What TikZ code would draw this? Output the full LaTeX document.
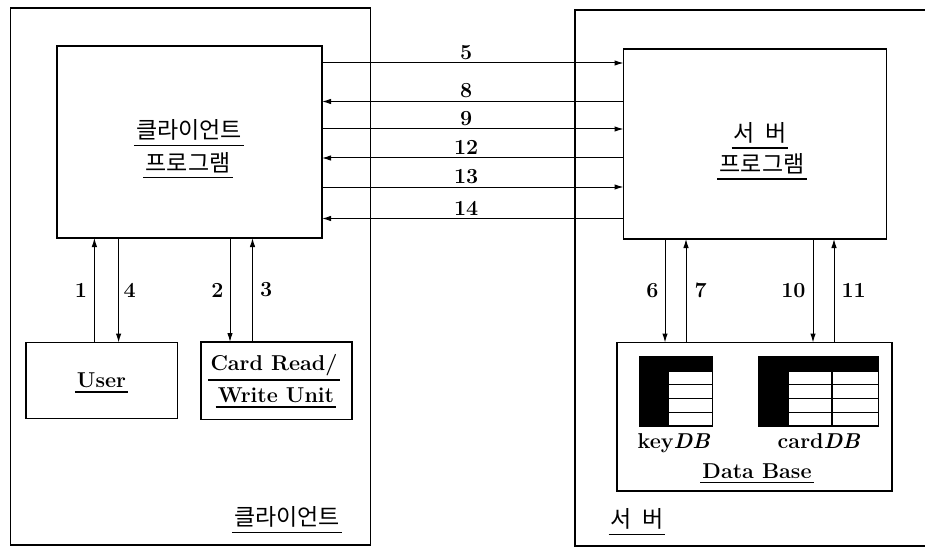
\documentclass[tikz,border=0pt]{standalone}
\usepackage{fontspec}
\newfontfamily\kr{Noto Sans CJK KR}
\usetikzlibrary{arrows.meta}
\begin{document}
\begin{tikzpicture}[x=1pt,y=-1pt,
  box/.style={draw, line width=1.3pt, inner sep=0pt, outer sep=0pt},
  arr/.style={line width=1pt, -{Latex[length=9pt,width=5.5pt]}},
  num/.style={font=\fontsize{21.5}{24}\selectfont\bfseries, inner sep=0pt},
  lat/.style={font=\fontsize{21.5}{24}\selectfont\bfseries, inner sep=0pt, anchor=base},
  kor/.style={font=\fontsize{23}{26}\selectfont\kr, inner sep=0pt},
  ulline/.style={line width=1.2pt}
]
\useasboundingbox (0,0) rectangle (925,548);

% outer boxes
\node[box, minimum width=360pt, minimum height=537pt] (cout) at (190.5,276.5) {};
\node[box, minimum width=360pt, minimum height=536pt] (sout) at (755,278) {};

% program boxes
\node[box, minimum width=265pt, minimum height=192pt] (cp) at (189.5,142) {};
\node[box, minimum width=263pt, minimum height=190pt] (sp) at (755,144) {};

% devices
\node[box, minimum width=151.5pt, minimum height=76pt] (user) at (101.75,380.5) {};
\node[box, minimum width=151pt, minimum height=77.5pt] (card) at (276.5,380.75) {};
\node[box, minimum width=275pt, minimum height=148.5pt] (db) at (754.5,416.75) {};

% horizontal messages
\draw[arr] (cp.east |- 0,63)  -- node[num, above=3pt, pos=0.478]{5}  (sp.west |- 0,63);
\draw[arr] (sp.west |- 0,101.5) -- node[num, above=3pt, pos=0.522]{8}  (cp.east |- 0,101.5);
\draw[arr] (cp.east |- 0,129) -- node[num, above=3pt, pos=0.478]{9}  (sp.west |- 0,129);
\draw[arr] (sp.west |- 0,158) -- node[num, above=3pt, pos=0.522]{12} (cp.east |- 0,158);
\draw[arr] (cp.east |- 0,187) -- node[num, above=3pt, pos=0.478]{13} (sp.west |- 0,187);
\draw[arr] (sp.west |- 0,218.5) -- node[num, above=3pt, pos=0.522]{14} (cp.east |- 0,218.5);

% client vertical messages
\draw[arr] (user.north -| 94.4,0)  -- node[num, left=7pt]{1}  (cp.south -| 94.4,0);
\draw[arr] (cp.south -| 118.6,0)   -- node[num, right=4.5pt]{4} (user.north -| 118.6,0);
\draw[arr] (cp.south -| 230,0)     -- node[num, left=6pt]{2}  (card.north -| 230,0);
\draw[arr] (card.north -| 252.5,0) -- node[num, right=7pt]{3} (cp.south -| 252.5,0);

% server vertical messages
\draw[arr] (sp.south -| 665,0) -- node[num, left=6pt]{6}  (db.north -| 665,0);
\draw[arr] (db.north -| 686,0) -- node[num, right=8pt]{7} (sp.south -| 686,0);
\draw[arr] (sp.south -| 813,0) -- node[num, left=7pt]{10} (db.north -| 813,0);
\draw[arr] (db.north -| 834,0) -- node[num, right=7pt]{11} (sp.south -| 834,0);

% tables
\fill (639,356) rectangle (713,426.5);
\fill[white] (669,372) rectangle (711.5,425);
\foreach \yy in {384.5,398.5,412.5} \draw[line width=1.4pt] (669,\yy) -- (711.5,\yy);
\fill (758,356) rectangle (879,426.5);
\fill[white] (788.5,372) rectangle (877.5,425);
\foreach \yy in {384.5,398.5,412.5} \draw[line width=1.4pt] (788.5,\yy) -- (877.5,\yy);
\draw[line width=1.4pt] (832,372) -- (832,425);

% texts
\node[kor] (cpa) at (189,130) {클라이언트};
\node[kor] (cpb) at (188,162.5) {프로그램};
\node[kor] (spa) at (760,132.8) {서 \kern5pt 버};
\node[kor] (spb) at (762,164) {프로그램};
\node[lat] (usert) at (101.5,387) {User};
\node[lat] (carda) at (274,370) {Card Read/};
\node[lat] (cardb) at (276,402) {Write Unit};
\node[lat] (keyt) at (674,448) {key\textit{DB}};
\node[lat] (cardt) at (819,448) {card\textit{DB}};
\node[lat] (dbt) at (757,478) {Data Base};
\node[kor] (clab) at (287,517) {클라이언트};
\node[kor] (slab) at (637,519) {서 \kern5pt 버};

\foreach \n in {cpa,cpb,spa,spb,usert,carda,cardb,dbt,clab,slab}
  \draw[ulline] ([xshift=-2pt,yshift=-4.5pt]\n.south west) -- ([xshift=2pt,yshift=-4.5pt]\n.south east);
\end{tikzpicture}
\end{document}
